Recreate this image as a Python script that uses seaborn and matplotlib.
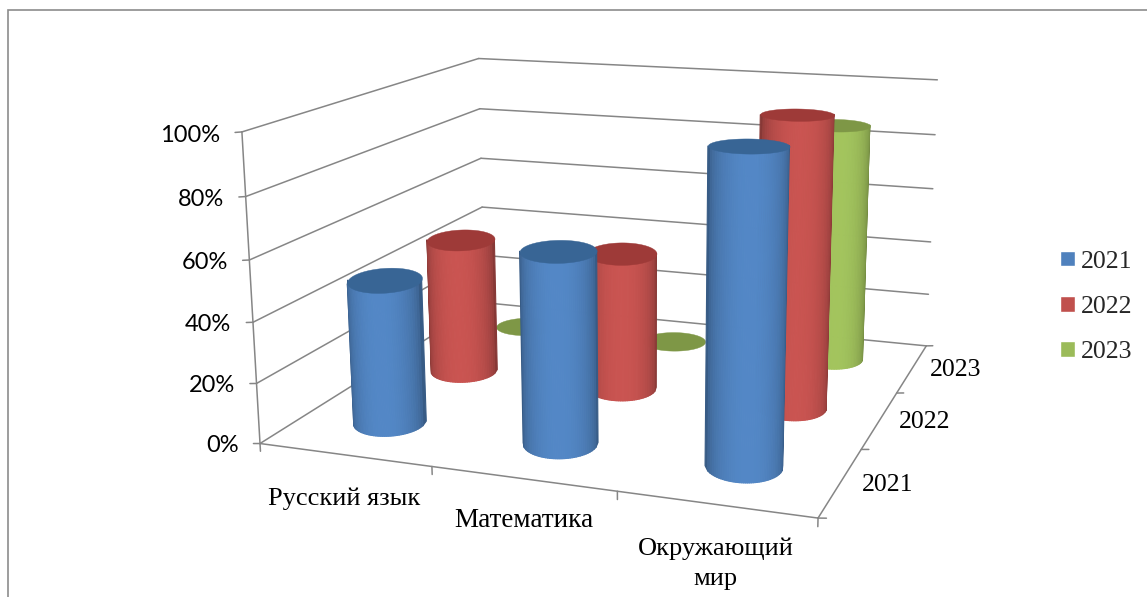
import numpy as np
import matplotlib
matplotlib.use("Agg")
import matplotlib.pyplot as plt
import seaborn as sns
from matplotlib.patches import Patch, Rectangle
from mpl_toolkits.mplot3d import proj3d
from mpl_toolkits.mplot3d.art3d import Poly3DCollection

categories = ["Русский язык", "Математика", "Окружающий\nмир"]
series = ["2021", "2022", "2023"]
values_2021 = [48, 62.5, 99]
values_2022 = [48, 48, 99]
values_2023 = [0, 0, 86]
z_ticks = [0, 20, 40, 60, 80, 100]
colors = ["#4F81BD", "#C0504D", "#9BBB59"]
top_colors = ["#386595", "#9E3A38", "#7E9746"]

W, H = 1147, 597
sns.set_theme(style="white")
palette = sns.color_palette(colors)
top_palette = sns.color_palette(top_colors)

fig = plt.figure(figsize=(W / 100, H / 100), dpi=100)
ax = fig.add_subplot(projection="3d", computed_zorder=False)
ax.set_position([223.3 / W, -50.0 / H, 772.8 / W, 772.8 / H])
ax.set_xlim(0, 3)
ax.set_ylim(0, 3)
ax.set_zlim(0, 100)

# camera fitted to the corners of the box in the picture
azim = -70.1116
ax.view_init(elev=14.0953, azim=azim, roll=0.218)
ax.set_proj_type("persp", focal_length=0.4112)
aspect = (1, 0.9566, 0.5539)
ax.set_box_aspect(aspect)
ax.set_axis_off()
ax.patch.set_alpha(0)

grid = "#868686"


def seg(a, b, lw=1.1):
    ax.plot([a[0], b[0]], [a[1], b[1]], [a[2], b[2]], color=grid, lw=lw, zorder=1, clip_on=False)


def label(x, y, z, text, **kw):
    px, py, _ = proj3d.proj_transform(x, y, z, ax.get_proj())
    ax.text2D(px, py, text, transform=ax.transData, color="black", zorder=100, clip_on=False, **kw)


for z in z_ticks:
    seg((0, 0, z), (0, 3, z))
    seg((0, 3, z), (3, 3, z))
seg((0, 0, 0), (0, 0, 100))
seg((0, 0, 0), (3, 0, 0))
seg((3, 0, 0), (3, 3, 0))

# cylinders, ellipse is lined up with the view so it stays level on screen
rx = 0.197
phi = np.deg2rad(azim)
side = np.array([-np.sin(phi), np.cos(phi)])
front = np.array([np.cos(phi), np.sin(phi)])


def ellipse(cx, cy, t, depth):
    px = rx * (np.cos(t) * side[0] + depth * np.sin(t) * front[0])
    py = rx * (np.cos(t) * side[1] + depth * np.sin(t) * front[1])
    return cx + px, cy + py * aspect[0] / aspect[1]


# equal strips on screen, so no thin slivers at the silhouette
strip = np.arccos(np.linspace(1, -1, 41))
circle = np.linspace(0, 2 * np.pi, 97)[:-1]


def cylinder(cx, cy, val, col, top, order):
    col = np.array(col)
    # tall cylinders get flatter caps, the reference has stronger perspective than the fit
    depth = 1 + 0.6 * (1 - val / 100) if val > 0 else 1
    if val > 0:
        X0, Y0 = ellipse(cx, cy, strip, 1.2)
        X1, Y1 = ellipse(cx, cy, strip, depth)
        xs = np.array([X0, X1])
        ys = np.array([Y0, Y1])
        zs = np.array([np.zeros_like(X0), np.full_like(X0, val)])
        mid = (strip[:-1] + strip[1:]) / 2
        sh = 0.62 + 0.43 * np.sin(mid) ** 0.9
        fc = np.clip(col[None, :] * sh[:, None], 0, 1)
        fc = np.c_[fc, np.ones(len(fc))].reshape(1, -1, 4)
        surf = ax.plot_surface(xs, ys, zs, facecolors=fc, shade=False, rstride=1, cstride=1,
                               linewidth=0.8, zorder=order)
        surf.set_edgecolor(fc.reshape(-1, 4))
    X, Y = ellipse(cx, cy, circle, depth)
    cap = Poly3DCollection([list(zip(X, Y, np.full_like(X, val)))], facecolor=top, edgecolor=top,
                           linewidth=0.3, zorder=order + 0.5)
    ax.add_collection3d(cap, autolim=False)


rows = [values_2021, values_2022, values_2023]
for j in [2, 1, 0]:
    for i in range(3):
        cylinder(i + 0.488, j + 0.56, rows[j][i], palette[j], top_palette[j], 10 + (2 - j) * 10 + i * 2)

# tick marks and labels
for i in range(4):
    seg((i, 0, 0), (i, 0, -2.6))
for j in range(4):
    seg((3, j, 0), (3.04, j, 0.3))
for z in z_ticks:
    seg((0, 0, z), (-0.04, 0, z - 0.3))
    label(-0.13, 0, z - 1.6, f"{z}%", ha="right", va="center", family="Lato", fontsize=17)

label_x = [0.72, 1.675, 2.62]
label_z = [0, 1.6, 0.8]
cat_size = [19, 19.5, 19]
for i, name in enumerate(categories):
    label(label_x[i], -0.42, label_z[i], name, ha="center", va="top", family="Liberation Serif",
          fontsize=cat_size[i], linespacing=1.48)
for j, name in enumerate(series):
    label(3.105, j + 0.5, 0, name, ha="left", va="center", family="Liberation Serif", fontsize=18.5)

handles = [Patch(facecolor=palette[k], label=series[k]) for k in range(3)]
fig.legend(handles=handles, loc="center left", bbox_to_anchor=(1037 / W, 1 - 307 / H), frameon=False,
           prop={"family": "Liberation Serif", "size": 18.5}, handlelength=0.56, handleheight=0.56,
           handletextpad=0.25, labelspacing=0.91)

fig.add_artist(Rectangle((8 / W, -0.1), 1.2, 1 - 10 / H + 0.1, transform=fig.transFigure, fill=False,
                         edgecolor="#8c8c8c", lw=1.2))

fig.savefig("out.png", dpi=100)
